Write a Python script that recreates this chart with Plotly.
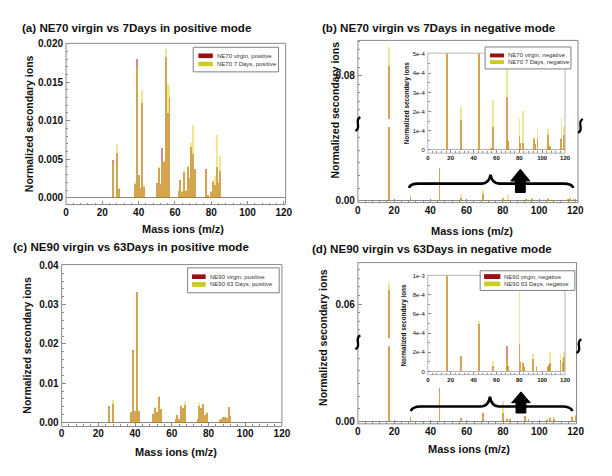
import plotly.graph_objects as go

W, H = 612, 476

# ---------------- data ----------------
# (a) NE70 virgin vs 7Days, positive mode
mz_a = [26, 28, 29, 38, 39, 40, 41, 42, 43, 50, 51, 52, 53, 54, 55, 56, 57,
        62, 63, 64, 65, 66, 67, 68, 69, 70, 71, 77, 78, 80, 81, 82, 83, 84, 85]
virgin_a = [0.0049, 0.0058, 0.0011, 0.0018, 0.0180, 0.0029, 0.0013, 0.0123, 0.0014,
            0.0019, 0.0038, 0.0018, 0.0064, 0.0046, 0.0183, 0.0110, 0.0131,
            0.0009, 0.0023, 0.0008, 0.0033, 0.0009, 0.0040, 0.0025, 0.0066, 0.0057, 0.0037,
            0.0037, 0.0003, 0.0008, 0.0020, 0.0017, 0.0040, 0.0019, 0.0035]
aged_a = [0.0047, 0.0070, 0.0013, 0.0020, 0.0168, 0.0027, 0.0014, 0.0140, 0.0016,
          0.0018, 0.0040, 0.0017, 0.0047, 0.0048, 0.0193, 0.0148, 0.0144,
          0.0010, 0.0021, 0.0009, 0.0035, 0.0010, 0.0041, 0.0024, 0.0071, 0.0095, 0.0036,
          0.0035, 0.0004, 0.0009, 0.0023, 0.0028, 0.0081, 0.0021, 0.0054]

# (b) NE70 virgin vs 7Days, negative mode (main plot and inset)
mz_b = [17, 29, 45, 55, 57, 69, 70, 80, 81, 83, 93, 94, 96, 105, 106, 107, 116, 117, 119]
virgin_b = [0.0829, 0.000155, 0.00130, 0.000010, 0.000120, 0.000275, 0.000045, 0.000070,
            0.000037, 0.000037, 0.000055, 0.000030, 0.000063, 0.000080, 0.000020, 0.000015,
            0.000055, 0.000060, 0.000080]
aged_b = [0.0883, 0.000225, 0.00115, 0.000012, 0.000260, 0.000430, 0.000040, 0.000165,
          0.000035, 0.000205, 0.000068, 0.000025, 0.000115, 0.000110, 0.000022, 0.000018,
          0.000050, 0.000165, 0.000120]

# (c) NE90 virgin vs 63Days, positive mode
mz_c = [26, 28, 38, 39, 40, 41, 42, 50, 51, 52, 53, 54, 62, 63, 64, 65, 66, 67,
        74, 75, 76, 77, 78, 79, 86, 87, 88, 89, 90, 91, 92]
virgin_c = [0.0041, 0.0048, 0.0026, 0.0184, 0.0029, 0.0331, 0.0030, 0.0021, 0.0038, 0.0027,
            0.0066, 0.0035, 0.0010, 0.0019, 0.0009, 0.0043, 0.0037, 0.0044,
            0.0010, 0.0042, 0.0037, 0.0046, 0.0020, 0.0024, 0.0006, 0.0009, 0.0013, 0.0014,
            0.0011, 0.0039, 0.0016]
aged_c = [0.0042, 0.0058, 0.0027, 0.0182, 0.0030, 0.0333, 0.0029, 0.0020, 0.0039, 0.0028,
          0.0067, 0.0034, 0.0009, 0.0020, 0.0010, 0.0044, 0.0038, 0.0056,
          0.0009, 0.0050, 0.0038, 0.0047, 0.0019, 0.0028, 0.0007, 0.0008, 0.0014, 0.0015,
          0.0012, 0.0040, 0.0016]

# (d) NE90 virgin vs 63Days, negative mode - main plot
mz_d = [17, 29, 45, 57, 69, 80, 82, 84, 92, 94, 104, 106, 108, 118, 120]
virgin_d = [0.0641, 0.000165, 0.00134, 0.000120, 0.000330, 0.000330, 0.000110, 0.000100,
            0.000200, 0.000100, 0.000070, 0.000120, 0.000100, 0.000170, 0.000200]
aged_d = [0.0662, 0.000175, 0.00118, 0.000140, 0.000250, 0.000810, 0.000120, 0.000090,
          0.000180, 0.000110, 0.000080, 0.000140, 0.000160, 0.000200, 0.000270]
# (d) inset
mz_di = [17, 29, 45, 57, 69, 70, 80, 81, 83, 84, 92, 95, 105, 106, 107, 116, 118, 119]
virgin_di = [0.0020, 0.000160, 0.000500, 0.000060, 0.000270, 0.000060, 0.000285, 0.000100,
             0.000090, 0.000050, 0.000130, 0.000050, 0.000050, 0.000070, 0.000090,
             0.000120, 0.000100, 0.000150]
aged_di = [0.0020, 0.000165, 0.000525, 0.000113, 0.000130, 0.000050, 0.000880, 0.000090,
           0.000096, 0.000060, 0.000180, 0.000060, 0.000060, 0.000050, 0.000200,
           0.000180, 0.000150, 0.000200]

x_ticks = [0, 20, 40, 60, 80, 100, 120]
inset_b_ticks = [0, 1e-4, 2e-4, 3e-4, 4e-4, 5e-4]
inset_b_labels = ["0", "1e-4", "2e-4", "3e-4", "4e-4", "5e-4"]
inset_d_ticks = [0, 2e-4, 4e-4, 6e-4, 8e-4, 1e-3]
inset_d_labels = ["0", "2e-4", "4e-4", "6e-4", "8e-4", "1e-3"]

titles = ["(a) NE70 virgin vs 7Days in positive mode",
          "(b) NE70 virgin vs 7Days in negative mode",
          "(c) NE90 virgin vs 63Days in positive mode",
          "(d) NE90 virgin vs 63Days in negative mode"]
legend_texts = [["NE70 virgin, positive", "NE70 7 Days, positive"],
                ["NE70 virgin, negative", "NE70 7 Days, negative"],
                ["NE90 virgin, positive", "NE90 63 Days, positive"],
                ["NE90 virgin, negative", "NE90 63 Days, negative"]]
y_title = "Normalized secondary ions"
x_title = "Mass ions (m/z)"

# ---------------- styling ----------------
RED = "rgba(165,0,0,0.45)"
YEL = "rgba(210,200,0,0.42)"
RED_SW = "#9a0f0f"
YEL_SW = "#cccc22"
FRAME = "#8a8a8a"
IFRAME = "#b5b5b5"
TXT = "#111111"
FONT = "Liberation Sans, Arial, sans-serif"


def X(px):
    return px / W


def Y(py):
    return 1 - py / H


def dom_x(a, b):
    return [X(a), X(b)]


def dom_y(top, bot):
    return [Y(bot), Y(top)]


fig = go.Figure()


def add_bars(mz, v, d, xa, ya, width=1.0):
    fig.add_trace(go.Bar(x=mz, y=v, xaxis=xa, yaxis=ya, width=width,
                         marker=dict(color=RED, line=dict(width=0)), showlegend=False,
                         hoverinfo="skip"))
    fig.add_trace(go.Bar(x=mz, y=d, xaxis=xa, yaxis=ya, width=width,
                         marker=dict(color=YEL, line=dict(width=0)), showlegend=False,
                         hoverinfo="skip"))


add_bars(mz_a, virgin_a, aged_a, "x", "y")
add_bars(mz_b, virgin_b, aged_b, "x2", "y2")
add_bars(mz_b, virgin_b, aged_b, "x2", "y3")
add_bars(mz_b, virgin_b, aged_b, "x3", "y4", width=1.4)
add_bars(mz_c, virgin_c, aged_c, "x4", "y5")
add_bars(mz_d, virgin_d, aged_d, "x5", "y6")
add_bars(mz_d, virgin_d, aged_d, "x5", "y7")
add_bars(mz_di, virgin_di, aged_di, "x6", "y8", width=1.4)

tickfont_main = dict(family=FONT, size=10, color=TXT, weight="bold")
tickfont_inset = dict(family=FONT, size=6, color=TXT, weight="bold")


def xax(dom, rng, anchor, font=tickfont_main, ticklen=4):
    return dict(domain=dom_x(*dom), range=rng, anchor=anchor, showgrid=False, zeroline=False,
                showline=False, tickmode="array", tickvals=x_ticks,
                ticktext=[str(t) for t in x_ticks], ticks="inside", ticklen=ticklen,
                tickcolor=FRAME, tickfont=font, fixedrange=True,
                minor=dict(dtick=4, tick0=0, ticks="inside", ticklen=2, tickcolor=FRAME))


def yax(dom, rng, anchor, tickvals, ticktext, minor_dtick, zero=True, font=tickfont_main,
        zcolor=FRAME, ticklen=4):
    return dict(domain=dom_y(*dom), range=rng, anchor=anchor, showgrid=False,
                zeroline=zero, zerolinecolor=zcolor, zerolinewidth=1, showline=False,
                tickmode="array", tickvals=tickvals, ticktext=ticktext, ticks="inside",
                ticklen=ticklen, tickcolor=FRAME, tickfont=font, ticklabelstandoff=2,
                fixedrange=True,
                minor=dict(dtick=minor_dtick, tick0=0, ticks="inside", ticklen=2,
                           tickcolor=FRAME))


# panel boxes in pixels
A = dict(x=(64.3, 288.3), y=(39, 203))
B = dict(x=(362, 586.5), up=(36, 116), lo=(124, 201))
BI = dict(x=(433.3, 573.3), y=(49, 150.7))
C = dict(x=(59.8, 284.5), y=(264, 428.7))
D = dict(x=(362, 585), up=(262, 339), lo=(347, 426))
DI = dict(x=(433.3, 573.3), y=(275, 376))

ya_vals = [0, 0.005, 0.01, 0.015, 0.02]
yc_vals = [0, 0.01, 0.02, 0.03, 0.04]

fig.update_layout(
    width=W, height=H, margin=dict(l=0, r=0, t=0, b=0),
    paper_bgcolor="white", plot_bgcolor="white", barmode="overlay", bargap=0,
    showlegend=False,
    xaxis=xax(A["x"], [0, 121], "y"),
    yaxis=yax(A["y"], [-0.00089, 0.02004], "x", ya_vals, [f"{v:.3f}" for v in ya_vals], 0.001),
    xaxis2=xax(B["x"], [0, 121.5], "y2"),
    yaxis2=yax(B["lo"], [-0.000078, 0.00293], "x2", [0], ["0.00"], 0.0005),
    yaxis3=yax(B["up"], [0.0673, 0.0903], "x2", [0.08], ["0.08"], 0.0025, zero=False),
    xaxis3=xax(BI["x"], [0, 120], "y4", font=tickfont_inset, ticklen=3),
    yaxis4=yax(BI["y"], [-1.75e-5, 5.05e-4], "x3", inset_b_ticks, inset_b_labels, 5e-5,
               font=dict(family=FONT, size=6, color=TXT), zcolor=IFRAME, ticklen=3),
    xaxis4=xax(C["x"], [0, 120], "y5"),
    yaxis5=yax(C["y"], [-0.001, 0.0402], "x4", yc_vals, [f"{v:.2f}" for v in yc_vals], 0.002),
    xaxis5=xax(D["x"], [0, 120.5], "y6"),
    yaxis6=yax(D["lo"], [-0.0000975, 0.00298], "x5", [0], ["0.00"], 0.0005),
    yaxis7=yax(D["up"], [0.0500, 0.07213], "x5", [0.06], ["0.06"], 0.0025, zero=False),
    xaxis6=xax(DI["x"], [0, 120], "y8", font=tickfont_inset, ticklen=3),
    yaxis8=yax(DI["y"], [-3.4e-5, 1.003e-3], "x6", inset_d_ticks, inset_d_labels, 1e-4,
               font=dict(family=FONT, size=6, color=TXT), zcolor=IFRAME, ticklen=3),
)

shapes = []


def rect(x0, y0, x1, y1, color, width=1, fill=None):
    shapes.append(dict(type="rect", xref="paper", yref="paper", x0=X(x0), x1=X(x1),
                       y0=Y(y1), y1=Y(y0), line=dict(color=color, width=width),
                       fillcolor=fill if fill else "rgba(0,0,0,0)", layer="above"))


def path(d, color="black", width=2, fill=None):
    shapes.append(dict(type="path", xref="paper", yref="paper", path=d,
                       line=dict(color=color, width=width),
                       fillcolor=fill if fill else "rgba(0,0,0,0)", layer="above"))


def P(x, y):
    return f"{X(x):.5f},{Y(y):.5f}"


# frames
rect(A["x"][0], A["y"][0], A["x"][1], A["y"][1], FRAME)
rect(C["x"][0], C["y"][0], C["x"][1], C["y"][1], FRAME)
rect(B["x"][0], B["up"][0], B["x"][1], B["lo"][1], FRAME)
rect(D["x"][0], D["up"][0], D["x"][1], D["lo"][1], FRAME)
rect(BI["x"][0], BI["y"][0], BI["x"][1], BI["y"][1], IFRAME)
rect(DI["x"][0], DI["y"][0], DI["x"][1], DI["y"][1], IFRAME)


def brace(x0, x1, xc, ye, yf, yc):
    d = (f"M {P(x0, ye)} Q {P(x0 + 1.5, yf)} {P(x0 + 10, yf)} L {P(xc - 9, yf)} "
         f"Q {P(xc - 1.5, yf)} {P(xc, yc)} Q {P(xc + 1.5, yf)} {P(xc + 9, yf)} "
         f"L {P(x1 - 10, yf)} Q {P(x1 - 1.5, yf)} {P(x1, ye)}")
    path(d, width=2.6)


def arrow(xc, ytop, ybase, ybot, hw, sw):
    d = (f"M {P(xc, ytop)} L {P(xc + hw, ybase)} L {P(xc + sw, ybase)} L {P(xc + sw, ybot)} "
         f"L {P(xc - sw, ybot)} L {P(xc - sw, ybase)} L {P(xc - hw, ybase)} Z")
    path(d, width=1, fill="black")


def brk(cx, cy):
    d = (f"M {P(cx + 2.5, cy - 7)} C {P(cx - 4.5, cy - 4)} {P(cx + 4.5, cy + 4)} "
         f"{P(cx - 2.5, cy + 7)}")
    path(d, width=2.3)


brace(414, 581.7, 497.3, 186, 181.7, 172.7)
arrow(527.7, 167, 179, 190.7, 9.8, 5)
brace(416, 580.7, 496.7, 413, 408.3, 398.5)
arrow(528.3, 393.5, 404.5, 415, 9.5, 5)
brk(362, 121)
brk(589, 123)
brk(362, 343)
brk(587.5, 347)

annotations = []


def text(x, y, s, size, bold=True, xanchor="center", angle=0, color=TXT):
    annotations.append(dict(x=X(x), y=Y(y), xref="paper", yref="paper", text=s,
                            showarrow=False, xanchor=xanchor, yanchor="middle",
                            textangle=angle,
                            font=dict(family=FONT, size=size, color=color,
                                      weight="bold" if bold else "normal")))


def legend(box, sw, ry, yy, tx, ty, labels):
    rect(box[0], box[1], box[2], box[3], "#808080", fill="white")
    rect(sw[0], ry[0], sw[1], ry[1], RED_SW, width=0, fill=RED_SW)
    rect(sw[0], yy[0], sw[1], yy[1], YEL_SW, width=0, fill=YEL_SW)
    text(tx, ty[0], labels[0], 6, bold=False, xanchor="left", color="#333")
    text(tx, ty[1], labels[1], 6, bold=False, xanchor="left", color="#333")


legend((194, 43, 281, 68), (199.3, 214), (49.3, 54), (57.7, 62.3), 216.7, (51.7, 60),
       legend_texts[0])
legend((491.7, 42.7, 579.3, 65), (496.7, 511), (49.3, 53.3), (56, 60), 512.7, (51.3, 58),
       legend_texts[1])
legend((188.3, 267.3, 281.7, 292.7), (192.7, 206.7), (274, 278.7), (281.7, 286.7), 209,
       (276.3, 284.2), legend_texts[2])
legend((486.7, 270.3, 583.3, 290.3), (490.7, 507.3), (273.7, 278.7), (281.3, 286), 509.3,
       (276.2, 283.6), legend_texts[3])

# titles
text(17, 23, titles[0], 11.6, xanchor="left")
text(323, 23, titles[1], 11.6, xanchor="left")
text(8, 246, titles[2], 11.6, xanchor="left")
text(313, 248, titles[3], 11.6, xanchor="left")

# axis titles
text(26.7, 121, y_title, 10.5, angle=-90)
text(339, 107, y_title, 10.5, angle=-90)
text(25, 346, y_title, 10.5, angle=-90)
text(327, 338, y_title, 10.5, angle=-90)
text(184, 228, x_title, 11)
text(478, 230, x_title, 11)
text(176, 454.7, x_title, 11)
text(475, 451.3, x_title, 11)
# inset axis titles
text(412, 100, y_title, 6.3, angle=-90)
text(409, 326, y_title, 6.3, angle=-90)

fig.update_layout(shapes=shapes, annotations=annotations)
fig.write_html("out.html", config={"displayModeBar": False, "staticPlot": True},
               post_script="document.body.style.margin='0';")
